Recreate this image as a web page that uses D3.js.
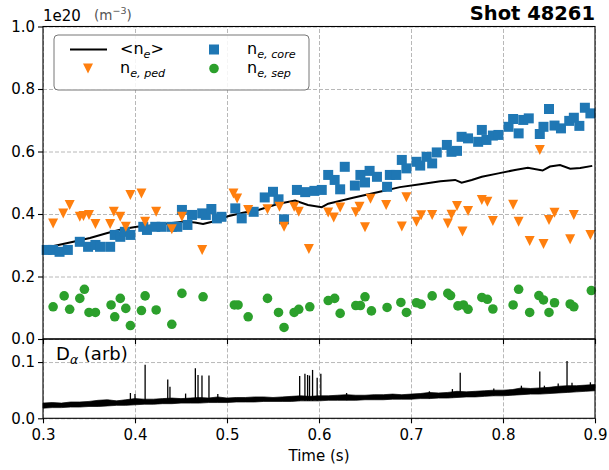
<!DOCTYPE html>
<html>
<head>
<meta charset="utf-8">
<script src="https://cdn.jsdelivr.net/npm/d3@7"></script>
<style>
body { margin: 0; background: #fff; }
svg text { font-family: "DejaVu Sans", sans-serif; fill: #000; }
</style>
</head>
<body>
<div id="chart"></div>
<script>
//------------------------------------------ data ------------------------------------------
const coreT = [0.304,0.311,0.318,0.327,0.340,0.349,0.357,0.362,0.373,0.378,0.384,0.389,0.395,0.409,0.413,0.422,0.429,0.440,0.446,0.451,
  0.457,0.462,0.473,0.477,0.483,0.489,0.494,0.509,0.516,0.529,0.541,0.550,0.556,0.562,0.576,0.585,0.595,0.603,0.610,0.617,
  0.623,0.628,0.639,0.645,0.650,0.655,0.663,0.674,0.677,0.684,0.690,0.695,0.706,0.710,0.717,0.723,0.728,0.739,0.744,0.750,
  0.755,0.762,0.773,0.777,0.782,0.789,0.795,0.806,0.811,0.817,0.822,0.828,0.840,0.844,0.850,0.856,0.863,0.872,0.877,0.883,
  0.889,0.895];
const coreN = [0.285,0.285,0.279,0.285,0.311,0.295,0.301,0.295,0.295,0.333,0.327,0.343,0.333,0.359,0.349,0.359,0.359,0.359,0.359,0.413,
  0.365,0.397,0.402,0.397,0.416,0.386,0.391,0.418,0.386,0.407,0.453,0.471,0.447,0.383,0.477,0.470,0.474,0.477,0.525,0.509,
  0.479,0.551,0.491,0.525,0.501,0.538,0.519,0.487,0.525,0.525,0.573,0.546,0.567,0.555,0.583,0.562,0.597,0.621,0.599,0.602,
  0.647,0.642,0.631,0.669,0.637,0.651,0.653,0.679,0.704,0.658,0.701,0.706,0.656,0.679,0.736,0.683,0.674,0.698,0.708,0.682,
  0.740,0.722];

const pedT = [0.311,0.322,0.329,0.340,0.344,0.350,0.357,0.373,0.377,0.384,0.390,0.395,0.407,0.411,0.423,0.440,0.451,0.473,0.507,0.511,
  0.523,0.544,0.557,0.562,0.573,0.578,0.589,0.610,0.616,0.623,0.640,0.644,0.650,0.656,0.673,0.690,0.695,0.706,0.711,0.723,
  0.740,0.744,0.750,0.756,0.762,0.777,0.783,0.789,0.811,0.817,0.829,0.840,0.844,0.850,0.856,0.873,0.877,0.895];
const pedN = [0.370,0.402,0.429,0.391,0.394,0.397,0.368,0.368,0.407,0.391,0.359,0.461,0.466,0.375,0.407,0.351,0.391,0.285,0.466,0.450,
  0.413,0.415,0.423,0.359,0.423,0.407,0.288,0.405,0.389,0.421,0.406,0.423,0.358,0.449,0.429,0.360,0.454,0.375,0.396,0.397,
  0.370,0.398,0.426,0.344,0.410,0.445,0.439,0.378,0.430,0.375,0.314,0.605,0.304,0.381,0.404,0.319,0.397,0.333];

const sepT = [0.311,0.323,0.329,0.340,0.345,0.350,0.357,0.374,0.378,0.384,0.390,0.395,0.407,0.411,0.423,0.440,0.451,0.474,0.508,0.512,
  0.523,0.544,0.556,0.562,0.573,0.578,0.590,0.610,0.617,0.623,0.640,0.645,0.650,0.657,0.674,0.689,0.695,0.706,0.711,0.723,
  0.740,0.743,0.751,0.757,0.762,0.777,0.783,0.789,0.811,0.817,0.829,0.839,0.844,0.850,0.856,0.873,0.877,0.896];
const sepN = [0.103,0.138,0.095,0.130,0.159,0.085,0.085,0.109,0.071,0.130,0.098,0.043,0.091,0.138,0.093,0.047,0.146,0.135,0.109,0.109,
  0.071,0.130,0.085,0.037,0.085,0.095,0.103,0.123,0.130,0.082,0.107,0.107,0.135,0.090,0.101,0.117,0.085,0.116,0.111,0.138,
  0.146,0.139,0.106,0.109,0.095,0.133,0.127,0.096,0.109,0.159,0.085,0.139,0.125,0.085,0.116,0.112,0.103,0.155];

const meanT = [0.300,0.308,0.333,0.351,0.370,0.387,0.402,0.427,0.454,0.465,0.474,0.484,0.501,0.516,0.534,0.555,0.574,0.588,0.603,0.610,
  0.637,0.666,0.688,0.710,0.732,0.748,0.755,0.766,0.777,0.795,0.813,0.827,0.843,0.851,0.862,0.873,0.884,0.897];
const meanN = [0.287,0.295,0.311,0.323,0.339,0.352,0.359,0.366,0.376,0.373,0.368,0.375,0.393,0.403,0.413,0.432,0.443,0.429,0.422,0.433,
  0.452,0.471,0.486,0.495,0.505,0.509,0.500,0.509,0.519,0.530,0.541,0.548,0.539,0.552,0.557,0.545,0.547,0.554];

// D-alpha trace: lower / upper edge of the noisy band, and the ELM spikes
const daT = [0.30,0.31,0.32,0.33,0.34,0.35,0.36,0.37,0.38,0.39,0.40,0.41,0.42,0.43,0.44,0.45,0.46,0.47,0.48,0.49,
  0.50,0.51,0.52,0.53,0.54,0.55,0.56,0.57,0.58,0.59,0.60,0.61,0.62,0.63,0.64,0.65,0.66,0.67,0.68,0.69,
  0.70,0.71,0.72,0.73,0.74,0.75,0.76,0.77,0.78,0.79,0.80,0.81,0.82,0.83,0.84,0.85,0.86,0.87,0.88,0.89,0.90];
const daLow = [0.018,0.019,0.019,0.020,0.020,0.021,0.021,0.022,0.023,0.023,0.024,0.025,0.025,0.026,0.026,0.027,0.027,0.027,0.028,0.028,
  0.028,0.029,0.029,0.029,0.030,0.030,0.030,0.030,0.031,0.031,0.031,0.032,0.032,0.032,0.032,0.033,0.033,0.033,0.034,0.034,
  0.034,0.035,0.035,0.036,0.036,0.037,0.038,0.038,0.039,0.040,0.040,0.041,0.042,0.043,0.043,0.044,0.045,0.046,0.047,0.048,0.049];
const daHigh = [0.027,0.028,0.027,0.029,0.029,0.030,0.032,0.033,0.031,0.033,0.035,0.034,0.034,0.035,0.036,0.035,0.036,0.037,0.036,0.038,
  0.036,0.037,0.037,0.038,0.038,0.037,0.038,0.039,0.040,0.039,0.040,0.040,0.041,0.042,0.041,0.041,0.042,0.042,0.043,0.042,
  0.043,0.044,0.046,0.045,0.046,0.048,0.047,0.048,0.049,0.050,0.050,0.051,0.054,0.053,0.054,0.055,0.057,0.058,0.058,0.059,0.060];
const spikeT    = [0.395,0.400,0.411,0.4356,0.438,0.455,0.4656,0.4685,0.4728,0.4804,0.490,0.579,0.5847,0.5876,0.5897,0.593,0.598,0.602,0.630,0.720,0.745,0.7535,0.790,0.820,0.840,0.845,0.860,0.8696,0.875,0.895];
const spikeBase = [0.025,0.025,0.026,0.027,0.027,0.028,0.028,0.028,0.029,0.029,0.029,0.031,0.031,0.031,0.031,0.031,0.031,0.032,0.032,0.035,0.037,0.038,0.040,0.043,0.045,0.045,0.046,0.047,0.047,0.049];
const spikeTop  = [0.045,0.043,0.095,0.069,0.056,0.044,0.089,0.077,0.076,0.076,0.043,0.075,0.079,0.077,0.076,0.086,0.072,0.079,0.045,0.048,0.052,0.081,0.053,0.058,0.083,0.058,0.062,0.102,0.063,0.064];

const xTicks = [0.3,0.4,0.5,0.6,0.7,0.8,0.9];
const yTicksTop = [0.0,0.2,0.4,0.6,0.8,1.0];
const yTicksBot = [0.0,0.1];

//------------------------------------------ layout ------------------------------------------
const w = 609, h = 470;
const pLeft = 43, pRight = 595, pTop = 26.5, pSplit = 339, pBottom = 418.3;
const blue = "#1f77b4", orange = "#ff7f0e", green = "#2ca02c";

const svg = d3.select("#chart").append("svg")
  .attr("width", w).attr("height", h);

const x = d3.scaleLinear().domain([0.3, 0.9]).range([pLeft, pRight]);
const yTop = d3.scaleLinear().domain([0, 1]).range([pSplit, pTop]);
const yBot = d3.scaleLinear().domain([0, 0.141]).range([pBottom, pSplit]);

//------------------------------------------ grids ------------------------------------------
function grid(g) {
  g.select(".domain").remove();
  g.selectAll("line").attr("stroke", "#b0b0b0").attr("stroke-width", 0.9).attr("stroke-dasharray", "4,2");
}
svg.append("g").attr("transform", "translate(0," + pSplit + ")")
  .call(d3.axisBottom(x).tickValues(xTicks).tickSize(-(pSplit - pTop)).tickFormat("")).call(grid);
svg.append("g").attr("transform", "translate(0," + pBottom + ")")
  .call(d3.axisBottom(x).tickValues(xTicks).tickSize(-(pBottom - pSplit)).tickFormat("")).call(grid);
svg.append("g").attr("transform", "translate(" + pLeft + ",0)")
  .call(d3.axisLeft(yTop).tickValues(yTicksTop).tickSize(-(pRight - pLeft)).tickFormat("")).call(grid);
svg.append("g").attr("transform", "translate(" + pLeft + ",0)")
  .call(d3.axisLeft(yBot).tickValues(yTicksBot).tickSize(-(pRight - pLeft)).tickFormat("")).call(grid);

//------------------------------------------ top panel data ------------------------------------------
const meanData = meanT.map((t, i) => ({t: t, v: meanN[i]}));
svg.append("path")
  .datum(meanData)
  .attr("fill", "none")
  .attr("stroke", "#000")
  .attr("stroke-width", 2)
  .attr("d", d3.line().x(d => x(d.t)).y(d => yTop(d.v)));

const sq = 10;
svg.append("g").selectAll("rect")
  .data(coreT.map((t, i) => ({t: t, v: coreN[i]})))
  .enter().append("rect")
    .attr("x", d => x(d.t) - sq / 2)
    .attr("y", d => yTop(d.v) - sq / 2)
    .attr("width", sq).attr("height", sq)
    .attr("fill", blue);

function triDown(cx, cy, s) {
  return "M" + (cx - s / 2) + "," + (cy - s / 2) + "L" + (cx + s / 2) + "," + (cy - s / 2) + "L" + cx + "," + (cy + s / 2) + "Z";
}
svg.append("g").selectAll("path")
  .data(pedT.map((t, i) => ({t: t, v: pedN[i]})))
  .enter().append("path")
    .attr("d", d => triDown(x(d.t), yTop(d.v), 10))
    .attr("fill", orange);

svg.append("g").selectAll("circle")
  .data(sepT.map((t, i) => ({t: t, v: sepN[i]})))
  .enter().append("circle")
    .attr("cx", d => x(d.t))
    .attr("cy", d => yTop(d.v))
    .attr("r", 4.8)
    .attr("fill", green);

//------------------------------------------ bottom panel (D alpha) ------------------------------------------
const daData = daT.map((t, i) => ({t: t, lo: daLow[i], hi: daHigh[i]}));
svg.append("path")
  .datum(daData)
  .attr("fill", "#000")
  .attr("stroke", "#000")
  .attr("stroke-width", 0.7)
  .attr("d", d3.area().x(d => x(d.t)).y0(d => yBot(d.lo)).y1(d => yBot(d.hi)));

svg.append("g").selectAll("line")
  .data(spikeT.map((t, i) => ({t: t, b: spikeBase[i], p: spikeTop[i]})))
  .enter().append("line")
    .attr("x1", d => x(d.t)).attr("x2", d => x(d.t))
    .attr("y1", d => yBot(d.b)).attr("y2", d => yBot(d.p))
    .attr("stroke", "#000").attr("stroke-width", 1.3);

//------------------------------------------ frames and axes ------------------------------------------
svg.append("rect").attr("x", pLeft).attr("y", pTop).attr("width", pRight - pLeft).attr("height", pSplit - pTop)
  .attr("fill", "none").attr("stroke", "#000").attr("stroke-width", 1.1);
svg.append("rect").attr("x", pLeft).attr("y", pSplit).attr("width", pRight - pLeft).attr("height", pBottom - pSplit)
  .attr("fill", "none").attr("stroke", "#000").attr("stroke-width", 1.1);

function ticks(g) {
  g.select(".domain").remove();
  g.selectAll("line").attr("stroke", "#000").attr("stroke-width", 1.1);
  g.selectAll("text").attr("font-size", 15).attr("font-family", "DejaVu Sans");
}
svg.append("g").attr("transform", "translate(" + pLeft + ",0)")
  .call(d3.axisLeft(yTop).tickValues(yTicksTop).tickSize(5).tickPadding(3).tickFormat(d3.format(".1f"))).call(ticks);
svg.append("g").attr("transform", "translate(" + pLeft + ",0)")
  .call(d3.axisLeft(yBot).tickValues(yTicksBot).tickSize(5).tickPadding(3).tickFormat(d3.format(".1f"))).call(ticks);
svg.append("g").attr("transform", "translate(0," + pSplit + ")")
  .call(d3.axisBottom(x).tickValues(xTicks).tickSize(5).tickFormat("")).call(ticks);
svg.append("g").attr("transform", "translate(0," + pBottom + ")")
  .call(d3.axisBottom(x).tickValues(xTicks).tickSize(5).tickPadding(6).tickFormat(d3.format(".1f"))).call(ticks);

svg.append("text").attr("x", (pLeft + pRight) / 2).attr("y", 461)
  .attr("text-anchor", "middle").attr("font-size", 15).text("Time (s)");

//------------------------------------------ titles ------------------------------------------
svg.append("text").attr("x", pRight).attr("y", 20)
  .attr("text-anchor", "end").attr("font-size", 19.5).attr("font-weight", "bold").text("Shot 48261");

svg.append("text").attr("x", pLeft).attr("y", 21).attr("font-size", 15).text("1e20");
const unit = svg.append("text").attr("x", 94).attr("y", 20).attr("font-size", 13.5).style("fill", "#555");
unit.append("tspan").text("(m");
unit.append("tspan").attr("dy", -6).attr("font-size", 9.5).text("\u22123");
unit.append("tspan").attr("dy", 6).text(")");

const da = svg.append("text").attr("x", 56).attr("y", 360).attr("font-size", 18);
da.append("tspan").text("D");
da.append("tspan").attr("dy", 4).attr("font-size", 12.5).attr("font-style", "italic").text("\u03b1");
da.append("tspan").attr("dy", -4).text(" (arb)");

//------------------------------------------ legend ------------------------------------------
const legend = svg.append("g");
legend.append("rect").attr("x", 54).attr("y", 35).attr("width", 255).attr("height", 55).attr("rx", 4)
  .attr("fill", "#fff").attr("fill-opacity", 0.85).attr("stroke", "#777").attr("stroke-width", 1);

const row1 = 49.5, row2 = 68.5;
legend.append("line").attr("x1", 70).attr("x2", 107).attr("y1", row1).attr("y2", row1)
  .attr("stroke", "#000").attr("stroke-width", 2);
legend.append("rect").attr("x", 214 - sq / 2).attr("y", row1 - sq / 2).attr("width", sq).attr("height", sq).attr("fill", blue);
legend.append("path").attr("d", triDown(88, row2, 10)).attr("fill", orange);
legend.append("circle").attr("cx", 214).attr("cy", row2).attr("r", 4.8).attr("fill", green);

function label(xp, yp, pre, sub, post) {
  const t = legend.append("text").attr("x", xp).attr("y", yp + 4.5).attr("font-size", 16);
  t.append("tspan").text(pre);
  t.append("tspan").attr("dy", 3.5).attr("font-size", 11.2).attr("font-style", "italic").text(sub);
  if (post) t.append("tspan").attr("dy", -3.5).text(post);
}
label(120, row1, "<n", "e", ">");
label(120, row2, "n", "e, ped", "");
label(247, row1, "n", "e, core", "");
label(247, row2, "n", "e, sep", "");
</script>
</body>
</html>
